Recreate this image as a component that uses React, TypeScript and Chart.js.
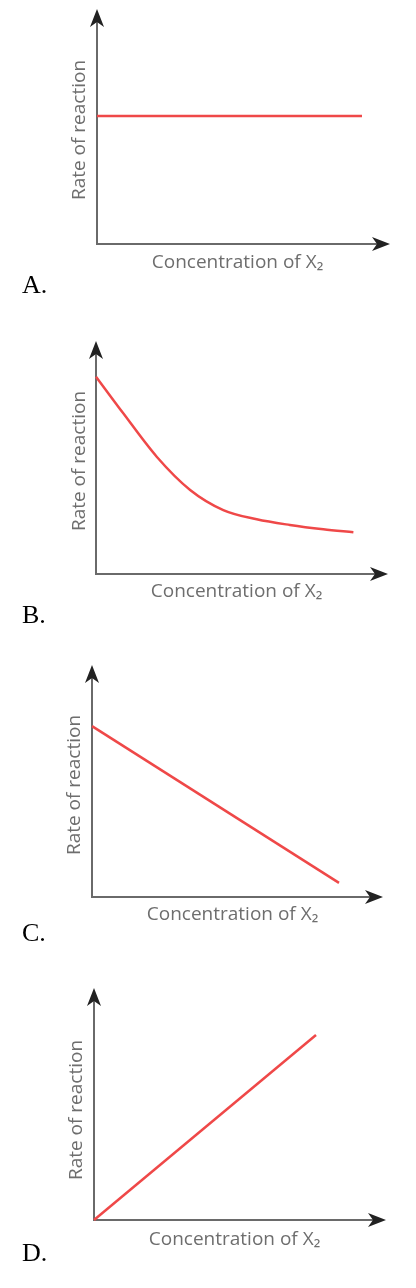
import React, { useEffect, useRef } from "react";
import { Chart, registerables } from "chart.js";

Chart.register(...registerables);

// ---- data ----
const X_TITLE = "Concentration of X₂";
const Y_TITLE = "Rate of reaction";
const LETTERS = ["A.", "B.", "C.", "D."];

const aX = [0, 9.43];
const aY = [5.61, 5.61];

const bX = [0, 0.97, 2.16, 3.35, 4.53, 5.72, 6.9, 8.09, 9.16];
const bY = [8.73, 7.11, 5.19, 3.72, 2.83, 2.42, 2.17, 1.98, 1.85];

const cX = [0, 8.79];
const cY = [7.63, 0.63];

const dX = [0, 7.9];
const dY = [0, 8.41];

const SERIES_X = [aX, bX, cX, dX];
const SERIES_Y = [aY, bY, cY, dY];
const SMOOTH = [false, true, false, false];

// ---- layout (pixel geometry per panel) ----
type Geo = {
  canvasTop: number;
  areaLeft: number;
  areaRight: number;
  areaTop: number;
  areaBottom: number;
  yTitleX: number;
  xTitleY: number;
  extX: number;
  extY: number;
  letterTop: number;
};

const GEO: Geo[] = [
  { canvasTop: 0, areaLeft: 97, areaRight: 378, areaTop: 16, areaBottom: 244, yTitleX: 80, xTitleY: 263, extX: 12, extY: 7, letterTop: 272 },
  { canvasTop: 320, areaLeft: 96, areaRight: 377, areaTop: 348, areaBottom: 574, yTitleX: 80, xTitleY: 592, extX: 11, extY: 7, letterTop: 602 },
  { canvasTop: 645, areaLeft: 92, areaRight: 373, areaTop: 673, areaBottom: 897, yTitleX: 75, xTitleY: 915, extX: 10, extY: 8, letterTop: 920 },
  { canvasTop: 970, areaLeft: 94, areaRight: 375, areaTop: 1000, areaBottom: 1220, yTitleX: 77, xTitleY: 1240, extX: 11, extY: 12, letterTop: 1240 },
];

const PAGE_W = 416;
const TITLE_SIZE = 19;
const TITLE_LH = 1.2;
const LH = TITLE_SIZE * TITLE_LH;
const AXIS_COLOR = "#6a6a6a";
const ARROW_COLOR = "#222222";
const TITLE_COLOR = "#6e6e6e";
const LINE_COLOR = "#ef4848";

const arrowPlugin = {
  id: "axisArrows",
  afterDraw(chart: any, _args: any, opts: any) {
    const { ctx, chartArea } = chart;
    const { left, right, top, bottom } = chartArea;
    const extX = opts.extX ?? 10;
    const extY = opts.extY ?? 8;
    const L = 18;
    const W = 7;
    const N = 5;
    ctx.save();
    ctx.strokeStyle = AXIS_COLOR;
    ctx.lineWidth = 2;
    const tipY = top - extY;
    ctx.beginPath();
    ctx.moveTo(left, top + 1);
    ctx.lineTo(left, tipY + L - N);
    ctx.stroke();
    const tipX = right + extX;
    ctx.beginPath();
    ctx.moveTo(right - 1, bottom);
    ctx.lineTo(tipX - L + N, bottom);
    ctx.stroke();
    ctx.fillStyle = ARROW_COLOR;
    ctx.beginPath();
    ctx.moveTo(left, tipY);
    ctx.lineTo(left + W, tipY + L);
    ctx.lineTo(left, tipY + L - N);
    ctx.lineTo(left - W, tipY + L);
    ctx.closePath();
    ctx.fill();
    ctx.beginPath();
    ctx.moveTo(tipX, bottom);
    ctx.lineTo(tipX - L, bottom - W);
    ctx.lineTo(tipX - L + N, bottom);
    ctx.lineTo(tipX - L, bottom + W);
    ctx.closePath();
    ctx.fill();
    ctx.restore();
  },
};

function Panel({ idx }: { idx: number }) {
  const ref = useRef<HTMLCanvasElement | null>(null);
  const g = GEO[idx];
  const canvasBottom = g.areaBottom + 46;
  const height = canvasBottom - g.canvasTop;

  useEffect(() => {
    if (!ref.current) return;
    const padLeft = g.yTitleX - LH / 2;
    const yWidth = g.areaLeft - padLeft;
    const xHeight = g.xTitleY - g.areaBottom + LH / 2;
    const padTop = g.areaTop - g.canvasTop;
    const padRight = PAGE_W - g.areaRight;
    const padBottom = canvasBottom - g.areaBottom - xHeight;
    const xs = SERIES_X[idx];
    const ys = SERIES_Y[idx];
    const pts = xs.map((x, i) => ({ x, y: ys[i] }));
    const titleFont = { family: "'Open Sans', sans-serif", size: TITLE_SIZE, lineHeight: TITLE_LH };

    const chart = new Chart(ref.current, {
      type: "line",
      data: {
        datasets: [
          {
            data: pts,
            borderColor: LINE_COLOR,
            borderWidth: 2.5,
            pointRadius: 0,
            fill: false,
            tension: SMOOTH[idx] ? 0.4 : 0,
            cubicInterpolationMode: SMOOTH[idx] ? "monotone" : "default",
            clip: false,
          } as any,
        ],
      },
      options: {
        animation: false,
        responsive: false,
        devicePixelRatio: 1,
        events: [],
        layout: { padding: { left: padLeft, right: padRight, top: padTop, bottom: padBottom } },
        plugins: {
          legend: { display: false },
          tooltip: { enabled: false },
          axisArrows: { extX: g.extX, extY: g.extY },
        } as any,
        scales: {
          x: {
            type: "linear",
            min: 0,
            max: 10,
            grid: { display: false },
            border: { display: true, color: AXIS_COLOR, width: 2 },
            ticks: { display: false },
            title: { display: true, text: X_TITLE, color: TITLE_COLOR, font: titleFont, padding: { top: 0, bottom: 0 } },
            afterFit: (s: any) => {
              s.height = xHeight;
            },
          },
          y: {
            type: "linear",
            min: 0,
            max: 10,
            grid: { display: false },
            border: { display: true, color: AXIS_COLOR, width: 2 },
            ticks: { display: false },
            title: { display: true, text: Y_TITLE, color: TITLE_COLOR, font: titleFont, padding: { top: 0, bottom: 0 } },
            afterFit: (s: any) => {
              s.width = yWidth;
            },
          },
        },
      },
      plugins: [arrowPlugin],
    });
    return () => chart.destroy();
  }, [idx]);

  return (
    <>
      <canvas
        ref={ref}
        width={PAGE_W}
        height={height}
        style={{ position: "absolute", left: 0, top: g.canvasTop, width: PAGE_W, height }}
      />
      <div
        style={{
          position: "absolute",
          left: 22,
          top: g.letterTop,
          fontFamily: "'Liberation Serif', 'Times New Roman', serif",
          fontSize: 26,
          lineHeight: "26px",
          color: "#000",
        }}
      >
        {LETTERS[idx]}
      </div>
    </>
  );
}

export default function App() {
  return (
    <div style={{ position: "absolute", left: 0, top: 0, width: PAGE_W, height: 1288, background: "#fff" }}>
      {GEO.map((_, i) => (
        <Panel key={i} idx={i} />
      ))}
    </div>
  );
}
